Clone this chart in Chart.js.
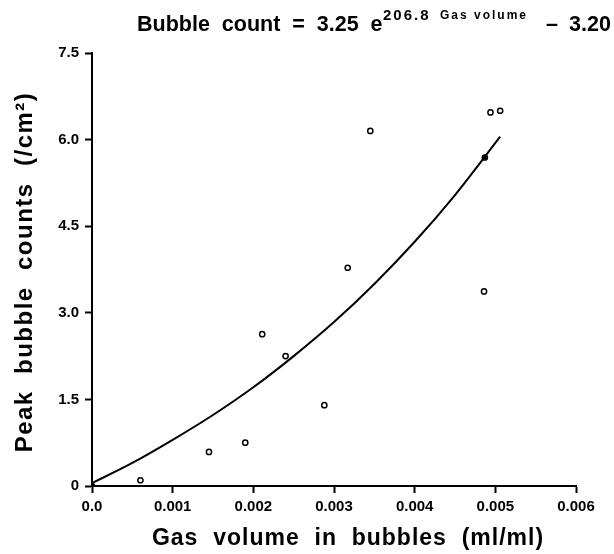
<!DOCTYPE html>
<html>
<head>
<meta charset="utf-8">
<script src="https://cdn.jsdelivr.net/npm/chart.js@4.4.0/dist/chart.umd.min.js"></script>
<style>
  html, body { margin: 0; padding: 0; background: #fff; }
  #wrap { width: 614px; height: 554px; }
</style>
</head>
<body>
<div id="wrap"><canvas id="bubbleChart" width="614" height="554"></canvas></div>
<script>
// measured points: gas volume (ml/ml) vs peak bubble counts (/cm2)
const gasVolume = [0, 0.0006, 0.00145, 0.0019, 0.00211, 0.0024, 0.00288, 0.00317, 0.00345, 0.00486, 0.00487, 0.00494, 0.00506];
const bubbleCounts = [0, 0.10, 0.59, 0.75, 2.63, 2.25, 1.40, 3.78, 6.15, 3.37, 5.69, 6.47, 6.50];
const filledPoint = [true, false, false, false, false, false, false, false, false, false, true, false, false];

// fitted curve
const curveX = [0, 0.0005, 0.001, 0.0015, 0.002, 0.0025, 0.003, 0.0035, 0.004, 0.0045, 0.00506];
const curveY = [0.05, 0.40, 0.80, 1.23, 1.71, 2.25, 2.84, 3.50, 4.23, 5.04, 6.05];

const xTickLabels = ['0.0', '0.001', '0.002', '0.003', '0.004', '0.005', '0.006'];
const yTickLabels = ['0', '1.5', '3.0', '4.5', '6.0', '7.5'];

const xTitle = 'Gas  volume  in  bubbles  (ml/ml)';
const yTitle = 'Peak  bubble  counts  (/cm\u00b2)';

const FONT = '"Liberation Sans", Arial, sans-serif';

document.addEventListener('DOMContentLoaded', function() {
    // equation title (with superscript) and the two axis titles
    const chartTexts = {
        id: 'chartTexts',
        afterDraw(chart) {
            const c = chart.ctx;
            c.save();
            c.fillStyle = '#000';
            c.textBaseline = 'alphabetic';
            const base = 31;
            const parts = [
                { t: 'Bubble  count  =  3.25  e', size: 21.5, dy: 0, x: 137, ls: 0 },
                { t: '206.8', size: 15, dy: -11, x: 383, ls: 2 },
                { t: 'Gas volume', size: 12, dy: -12, x: 440, ls: 2 },
                { t: '\u2013', size: 21.5, dy: 0, x: 546, ls: 0 },
                { t: '3.20', size: 21.5, dy: 0, x: 569, ls: 0 }
            ];
            parts.forEach(p => {
                c.font = 'bold ' + p.size + 'px ' + FONT;
                c.letterSpacing = p.ls + 'px';
                c.fillText(p.t, p.x, base + p.dy);
            });

            c.textAlign = 'center';
            c.textBaseline = 'middle';
            c.font = 'bold 23px ' + FONT;
            c.letterSpacing = '1px';
            c.fillText(xTitle, 348, 539);

            c.translate(25, 272);
            c.rotate(-Math.PI / 2);
            c.font = 'bold 24px ' + FONT;
            c.letterSpacing = '1.5px';
            c.fillText(yTitle, 0, 0);
            c.restore();
        }
    };

    const ctx = document.getElementById('bubbleChart').getContext('2d');
    new Chart(ctx, {
        type: 'scatter',
        data: {
            datasets: [
                {
                    label: 'fit',
                    type: 'line',
                    data: curveX.map((x, i) => ({ x: x, y: curveY[i] })),
                    borderColor: '#000',
                    borderWidth: 2,
                    pointRadius: 0,
                    tension: 0.4,
                    cubicInterpolationMode: 'monotone',
                    fill: false
                },
                {
                    label: 'data',
                    data: gasVolume.map((x, i) => ({ x: x, y: bubbleCounts[i] })),
                    pointRadius: 2.6,
                    pointBorderWidth: 1.5,
                    pointBorderColor: '#000',
                    pointBackgroundColor: filledPoint.map(f => f ? '#000' : '#fff')
                }
            ]
        },
        options: {
            responsive: false,
            animation: false,
            layout: { padding: { top: 53, right: 38, left: 0, bottom: 0 } },
            plugins: {
                legend: { display: false },
                tooltip: { enabled: false }
            },
            scales: {
                x: {
                    type: 'linear',
                    min: 0,
                    max: 0.006,
                    afterFit(scale) { scale.height = 68; },
                    border: { display: true, color: '#000', width: 2 },
                    grid: { drawOnChartArea: false, drawTicks: true, tickLength: 7, tickColor: '#000', tickWidth: 2 },
                    ticks: {
                        stepSize: 0.001,
                        color: '#000',
                        padding: 5,
                        maxRotation: 0,
                        font: { family: FONT, size: 15, weight: 'bold' },
                        callback: (v, i) => xTickLabels[i]
                    }
                },
                y: {
                    min: 0,
                    max: 7.5,
                    afterFit(scale) { scale.width = 92; },
                    border: { display: true, color: '#000', width: 2 },
                    grid: { drawOnChartArea: false, drawTicks: true, tickLength: 7, tickColor: '#000', tickWidth: 2 },
                    ticks: {
                        stepSize: 1.5,
                        color: '#000',
                        padding: 6,
                        font: { family: FONT, size: 15, weight: 'bold' },
                        callback: (v, i) => yTickLabels[i]
                    }
                }
            }
        },
        plugins: [chartTexts]
    });
});
</script>
</body>
</html>
